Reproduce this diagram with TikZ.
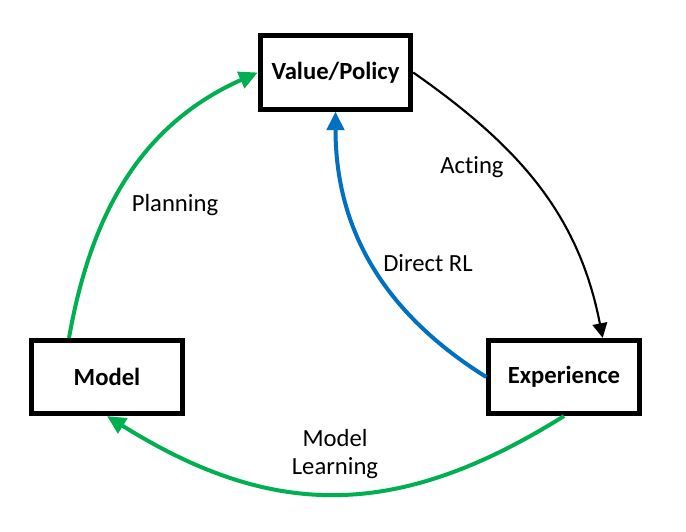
\documentclass[tikz,border=0pt]{standalone}
\usepackage{fontspec}
\setmainfont{Carlito}[Ligatures=NoCommon]
\usetikzlibrary{arrows.meta}
\definecolor{cyclegreen}{RGB}{0,176,80}
\definecolor{rlblue}{RGB}{0,112,192}
\begin{document}
\begin{tikzpicture}[x=0.75pt,y=0.75pt,
        box/.style={draw,line width=3.6pt,minimum width=113pt,minimum height=55pt,font=\fontsize{18.5}{21}\selectfont\bfseries},
        lbl/.style={font=\fontsize{18.5}{21}\selectfont,align=center},
        greenarrow/.style={cyclegreen,line width=3pt,-{Triangle[length=14pt,width=13pt]}},
        bluearrow/.style={rlblue,line width=3pt,-{Triangle[length=14pt,width=13pt]}},
        blackarrow/.style={black,line width=1.6pt,-{Triangle[length=11pt,width=11pt]}}]
        \useasboundingbox (0,0) rectangle (686,532);

        \node[box] (policy) at (335.5,459.5) {Value/Policy};
        \node[box] (model) at (107,155) {Model};
        \node[box] (experience) at (564,155) {Experience};

        \draw[blackarrow] (policy.east) to[out=-35,in=101] ([xshift=29pt]experience.north);
        \draw[bluearrow] (experience.west) to[out=148,in=-90] (policy.south);
        \draw[greenarrow] ([xshift=-28.5pt]model.north) to[out=80,in=204] (policy.west);
        \draw[greenarrow] (experience.south) to[out=212,in=-32,looseness=1.1] (model.south);

        \node[lbl] (acting) at (472,365) {Acting};
        \node[lbl] (directrl) at (428,269) {Direct RL};
        \node[lbl] (planning) at (175,327) {Planning};
        \node[lbl] (learning) at (335,78) {Model\\Learning};

    \end{tikzpicture}
\end{document}
